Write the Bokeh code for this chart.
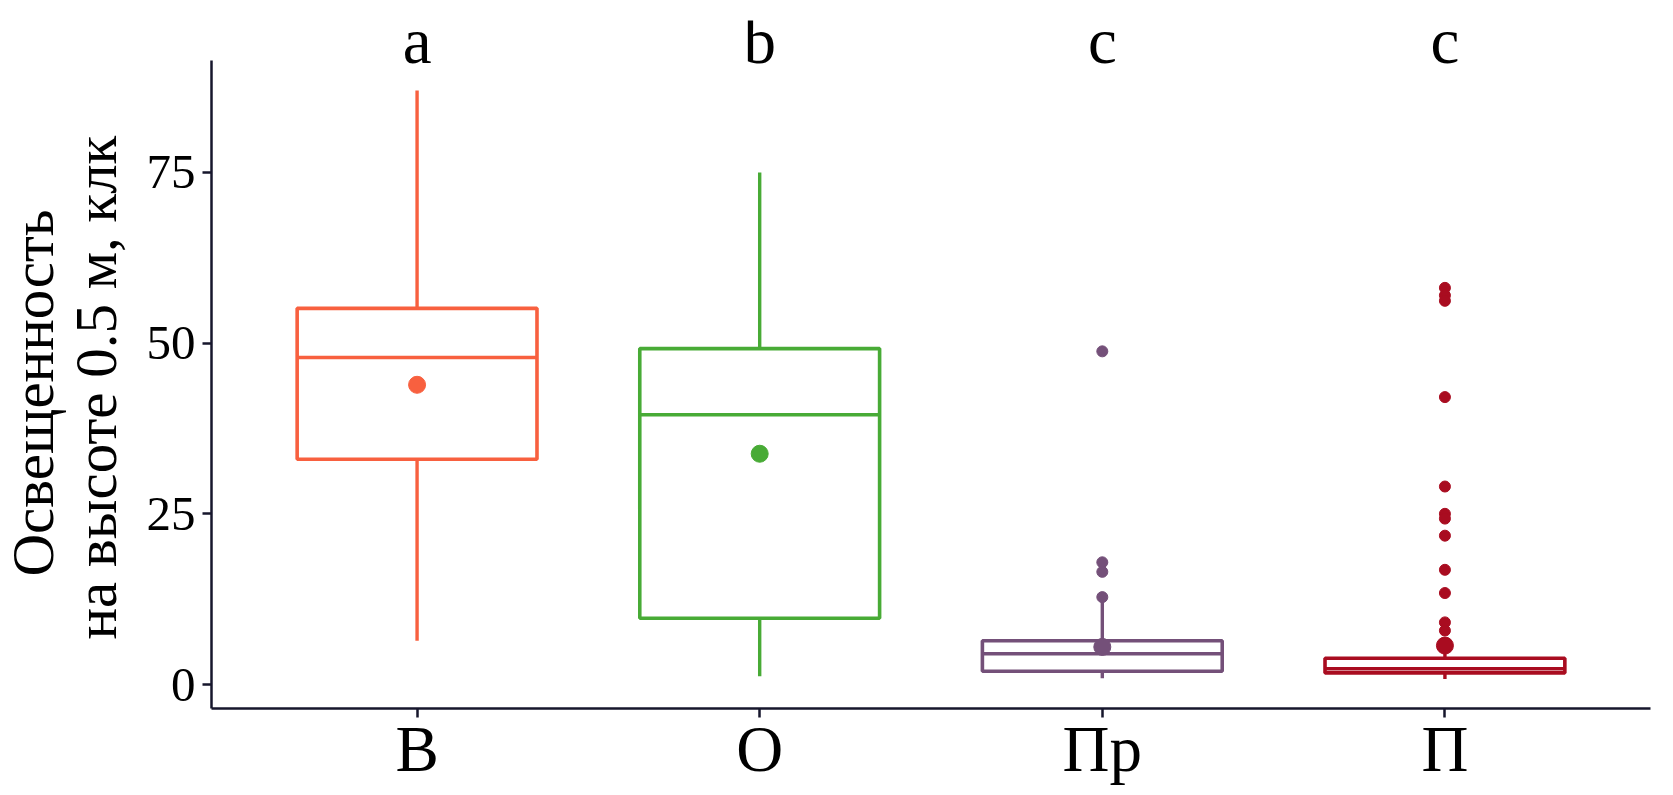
from bokeh.core.properties import value
from bokeh.embed import file_html
from bokeh.models import FixedTicker, Range1d, Title
from bokeh.plotting import figure
from bokeh.resources import INLINE

# Illuminance at 0.5 m height, klx, by habitat group
groups = ["В", "О", "Пр", "П"]
letters = ["a", "b", "c", "c"]
colors = ["#F8603F", "#48AB36", "#745079", "#A90C20"]

whisker_low = [6.4, 1.2, 0.9, 0.8]
q1 = [33.0, 9.7, 1.95, 1.7]
median = [47.9, 39.5, 4.5, 2.3]
q3 = [55.1, 49.2, 6.4, 3.85]
whisker_high = [87.0, 75.0, 12.8, 5.6]
means = [43.9, 33.8, 5.5, 5.7]

outliers_pr = [48.8, 17.9, 16.5, 12.8, 5.9, 5.2]
outliers_p = [58.1, 57.0, 56.2, 42.1, 29.0, 25.0, 24.3, 21.8, 16.8, 13.4, 9.1, 7.9]

FONT = "Liberation Serif"
AXIS = "#16162C"

pos = [1, 2, 3, 4]
half = 0.35

p = figure(width=1673, height=795, output_backend="svg", toolbar_location=None,
           x_range=Range1d(0.4, 4.6), y_range=Range1d(-3.515, 97.26),
           min_border_left=211, min_border_right=23, min_border_top=20,
           min_border_bottom=87)
p.outline_line_color = None
p.xgrid.visible = False
p.ygrid.visible = False
p.background_fill_color = "white"

# axes
p.yaxis.bounds = (-3.515, 91.4)
p.yaxis.ticker = FixedTicker(ticks=[0, 25, 50, 75])
p.xaxis.ticker = FixedTicker(ticks=pos)
p.xaxis.major_label_overrides = {i: g for i, g in zip(pos, groups)}
for ax in (p.xaxis, p.yaxis):
    ax.axis_line_color = AXIS
    ax.axis_line_width = 2.5
    ax.major_tick_line_color = AXIS
    ax.major_tick_line_width = 2.5
    ax.major_tick_out = 9
    ax.major_tick_in = 0
    ax.minor_tick_line_color = None
    ax.major_label_text_font = FONT
    ax.major_label_text_color = "black"
p.xaxis.major_label_text_font_size = "65px"
p.xaxis.major_label_text_line_height = 1.0
p.xaxis.major_label_standoff = -5
p.yaxis.major_label_text_font_size = "49px"
p.yaxis.major_label_standoff = 7

# y label, two lines (inner line first)
for text, off, so in [("на высоте 0.5 м, клк", 69, 30), ("Освещенность", 132, -41)]:
    p.add_layout(Title(text=text, align="left", offset=off, standoff=so,
                       text_font=FONT, text_font_size="59px",
                       text_font_style="normal", text_color="black"), "left")

left = [x - half for x in pos]
right = [x + half for x in pos]

# whiskers
p.segment(pos, q3, pos, whisker_high, line_color=colors, line_width=3.4)
p.segment(pos, whisker_low, pos, q1, line_color=colors, line_width=3.4)
# boxes
p.quad(left=left, right=right, bottom=q1, top=q3, fill_color="white",
       line_color=colors, line_width=3.6)
p.segment(left, median, right, median, line_color=colors, line_width=3.5)

# outliers
p.scatter([3] * len(outliers_pr), outliers_pr, size=11, color=colors[2])
p.scatter([4] * len(outliers_p), outliers_p, size=11, color=colors[3])

# means
p.scatter(pos, means, size=17, color=colors)

# significance letters
p.text(pos, [94.2] * 4, text=letters, text_font=value(FONT),
       text_font_size="65px", text_align="center", text_baseline="alphabetic",
       text_color="black")

open("out.html", "w").write(file_html(p, INLINE))
